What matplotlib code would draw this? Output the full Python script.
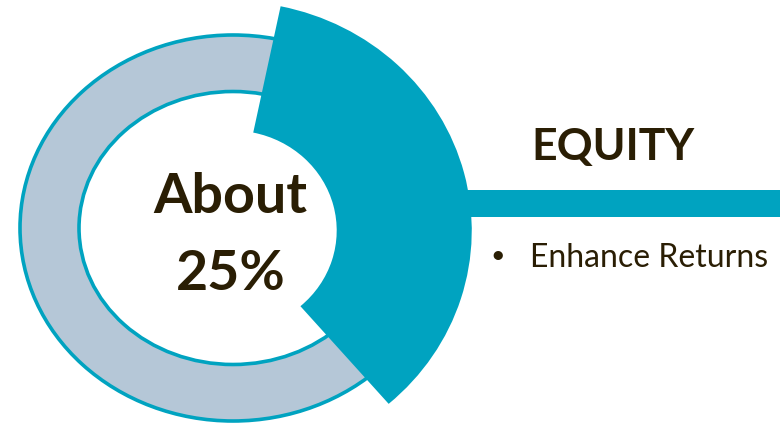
import matplotlib
matplotlib.use('Agg')
import matplotlib.pyplot as plt
from matplotlib.patches import Ellipse, Wedge
from matplotlib.transforms import Affine2D

# Values
center_label = ['About', '25%']
category = 'EQUITY'
bullets = ['Enhance Returns']
# equity slice, degrees (counter-clockwise from 3 o'clock)
slice_start = -49.2
slice_end = 78.3

teal = '#00a3c0'
ring_grey = '#b5c7d7'
text_col = '#2a1e04'
font = 'Lato'

fig = plt.figure(figsize=(7.8, 4.26), dpi=100)
ax = fig.add_axes([0, 0, 1, 1])
ax.set_xlim(0, 780)
ax.set_ylim(0, 426)
ax.axis('off')

# grey ring with teal outline
outer = Ellipse((233, 198), 426, 386, facecolor=ring_grey, edgecolor=teal, lw=2.6, zorder=1)
inner = Ellipse((233, 198), 308, 273, facecolor='white', edgecolor=teal, lw=2.6, zorder=1)
ax.add_patch(outer)
ax.add_patch(inner)

# connector bar to the label
ax.barh(222.5, 340, left=440, height=27, color=teal, zorder=2)

# exploded equity slice (slightly stretched horizontally)
tr = Affine2D().scale(1.047, 1).translate(232, 195.5) + ax.transData
w = Wedge((0, 0), 229, slice_start, slice_end, width=129, facecolor=teal,
          edgecolor='none', transform=tr, zorder=3)
ax.add_patch(w)

# centre label
ax.text(230, 213, center_label[0], ha='center', va='baseline', fontsize=40,
        fontweight='bold', family=font, color=text_col, zorder=4)
ax.text(231, 136, center_label[1], ha='center', va='baseline', fontsize=40,
        fontweight='bold', family=font, color=text_col, zorder=4)

# category and bullet points
ax.text(613, 266, category, ha='center', va='baseline', fontsize=32,
        fontweight='bold', family=font, color=text_col, zorder=4)
for i, b in enumerate(bullets):
    y = 159 - i * 40
    ax.text(498, y + 12, '\u2022', ha='center', va='center', fontsize=18,
            family=font, color=text_col, zorder=4)
    ax.text(530, y, b, ha='left', va='baseline', fontsize=23,
            family=font, color=text_col, zorder=4)

plt.savefig('out.png', dpi=100)
